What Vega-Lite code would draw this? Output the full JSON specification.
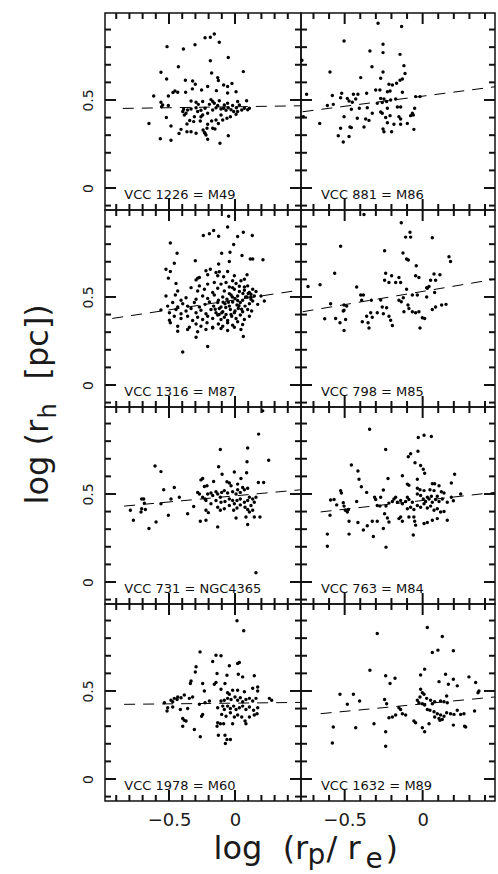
{
"$schema":"https://vega.github.io/schema/vega-lite/v6.json",
"background":"white",
"padding":{"left":20,"top":12,"right":4,"bottom":0},
"config":{"view":{"stroke":"#111","strokeWidth":1.5,"fill":null},"tick":{"thickness":2,"color":"#111","opacity":1},"axis":{"labelFont":"DejaVu Sans","titleFont":"DejaVu Sans","labelColor":"#1a1a1a","titleColor":"#1a1a1a","titleFontWeight":"normal","domain":false,"ticks":false,"grid":false}},
"datasets":{
"yt":[{"v":-0.1,"k":"minor"},{"v":0,"k":"major"},{"v":0.1,"k":"minor"},{"v":0.2,"k":"minor"},{"v":0.3,"k":"minor"},{"v":0.4,"k":"minor"},{"v":0.5,"k":"major"},{"v":0.6,"k":"minor"},{"v":0.7,"k":"minor"},{"v":0.8,"k":"minor"},{"v":0.9,"k":"minor"}],
"xtl":[{"v":-0.9,"k":"minor"},{"v":-0.8,"k":"minor"},{"v":-0.7,"k":"minor"},{"v":-0.6,"k":"minor"},{"v":-0.5,"k":"major"},{"v":-0.4,"k":"minor"},{"v":-0.3,"k":"minor"},{"v":-0.2,"k":"minor"},{"v":-0.1,"k":"minor"},{"v":0,"k":"major"},{"v":0.1,"k":"minor"},{"v":0.2,"k":"minor"},{"v":0.3,"k":"minor"},{"v":0.4,"k":"minor"}],
"xtr":[{"v":-0.7,"k":"minor"},{"v":-0.6,"k":"minor"},{"v":-0.5,"k":"major"},{"v":-0.4,"k":"minor"},{"v":-0.3,"k":"minor"},{"v":-0.2,"k":"minor"},{"v":-0.1,"k":"minor"},{"v":0,"k":"major"},{"v":0.1,"k":"minor"},{"v":0.2,"k":"minor"},{"v":0.3,"k":"minor"},{"v":0.4,"k":"minor"}],
"m49":[{"x":-0.157,"y":0.875},{"x":-0.187,"y":0.856},{"x":-0.227,"y":0.854},{"x":-0.119,"y":0.828},{"x":-0.515,"y":0.803},{"x":-0.391,"y":0.790},{"x":-0.303,"y":0.814},{"x":-0.051,"y":0.741},{"x":-0.187,"y":0.723},{"x":-0.429,"y":0.689},{"x":-0.561,"y":0.657},{"x":0.063,"y":0.661},{"x":-0.177,"y":0.653},{"x":-0.518,"y":0.619},{"x":-0.131,"y":0.627},{"x":-0.126,"y":0.610},{"x":-0.376,"y":0.612},{"x":-0.321,"y":0.608},{"x":-0.301,"y":0.589},{"x":-0.207,"y":0.576},{"x":-0.086,"y":0.585},{"x":-0.023,"y":0.593},{"x":-0.056,"y":0.576},{"x":-0.323,"y":0.563},{"x":-0.455,"y":0.551},{"x":-0.434,"y":0.544},{"x":-0.470,"y":0.542},{"x":-0.374,"y":0.544},{"x":-0.253,"y":0.557},{"x":-0.141,"y":0.553},{"x":-0.056,"y":0.540},{"x":0.008,"y":0.547},{"x":-0.505,"y":0.523},{"x":-0.616,"y":0.523},{"x":-0.561,"y":0.487},{"x":-0.548,"y":0.472},{"x":-0.556,"y":0.462},{"x":-0.333,"y":0.494},{"x":-0.295,"y":0.487},{"x":-0.245,"y":0.491},{"x":-0.182,"y":0.502},{"x":-0.169,"y":0.491},{"x":-0.119,"y":0.496},{"x":-0.056,"y":0.481},{"x":0.020,"y":0.491},{"x":0.088,"y":0.496},{"x":-0.389,"y":0.447},{"x":-0.359,"y":0.443},{"x":-0.333,"y":0.449},{"x":-0.396,"y":0.434},{"x":-0.371,"y":0.424},{"x":-0.295,"y":0.456},{"x":-0.283,"y":0.434},{"x":-0.258,"y":0.441},{"x":-0.227,"y":0.453},{"x":-0.207,"y":0.424},{"x":-0.169,"y":0.443},{"x":-0.144,"y":0.456},{"x":-0.131,"y":0.468},{"x":-0.106,"y":0.449},{"x":-0.086,"y":0.453},{"x":-0.068,"y":0.441},{"x":-0.051,"y":0.456},{"x":-0.030,"y":0.445},{"x":-0.010,"y":0.434},{"x":0.010,"y":0.456},{"x":0.033,"y":0.472},{"x":0.051,"y":0.443},{"x":0.071,"y":0.453},{"x":0.096,"y":0.445},{"x":0.109,"y":0.453},{"x":-0.194,"y":0.475},{"x":-0.157,"y":0.481},{"x":-0.081,"y":0.472},{"x":-0.018,"y":0.468},{"x":0.020,"y":0.434},{"x":-0.384,"y":0.415},{"x":-0.308,"y":0.405},{"x":-0.245,"y":0.415},{"x":-0.520,"y":0.400},{"x":-0.505,"y":0.468},{"x":-0.652,"y":0.366},{"x":-0.485,"y":0.352},{"x":-0.364,"y":0.364},{"x":-0.313,"y":0.377},{"x":-0.343,"y":0.383},{"x":-0.263,"y":0.381},{"x":-0.207,"y":0.362},{"x":-0.177,"y":0.381},{"x":-0.144,"y":0.386},{"x":-0.126,"y":0.366},{"x":-0.093,"y":0.386},{"x":-0.061,"y":0.396},{"x":-0.035,"y":0.405},{"x":0.008,"y":0.419},{"x":-0.409,"y":0.333},{"x":-0.424,"y":0.309},{"x":-0.364,"y":0.320},{"x":-0.333,"y":0.320},{"x":-0.295,"y":0.311},{"x":-0.242,"y":0.330},{"x":-0.227,"y":0.311},{"x":-0.212,"y":0.339},{"x":-0.169,"y":0.339},{"x":-0.152,"y":0.335},{"x":-0.232,"y":0.316},{"x":-0.220,"y":0.301},{"x":-0.566,"y":0.280},{"x":-0.485,"y":0.271},{"x":-0.207,"y":0.277},{"x":-0.051,"y":0.297},{"x":-0.114,"y":0.254},{"x":-0.278,"y":0.475},{"x":-0.106,"y":0.415},{"x":-0.258,"y":0.405}],
"m86":[{"x":-0.286,"y":0.936},{"x":-0.135,"y":0.917},{"x":-0.504,"y":0.835},{"x":-0.254,"y":0.816},{"x":-0.254,"y":0.769},{"x":-0.338,"y":0.778},{"x":-0.145,"y":0.759},{"x":-0.774,"y":0.725},{"x":-0.325,"y":0.689},{"x":-0.120,"y":0.695},{"x":-0.594,"y":0.659},{"x":-0.254,"y":0.659},{"x":-0.113,"y":0.650},{"x":-0.397,"y":0.627},{"x":-0.269,"y":0.623},{"x":-0.130,"y":0.619},{"x":-0.145,"y":0.612},{"x":-0.167,"y":0.595},{"x":-0.194,"y":0.585},{"x":-0.216,"y":0.589},{"x":-0.274,"y":0.557},{"x":-0.301,"y":0.557},{"x":-0.226,"y":0.547},{"x":-0.209,"y":0.551},{"x":-0.359,"y":0.538},{"x":-0.415,"y":0.532},{"x":-0.444,"y":0.532},{"x":-0.483,"y":0.509},{"x":-0.519,"y":0.538},{"x":-0.526,"y":0.513},{"x":-0.579,"y":0.525},{"x":-0.573,"y":0.475},{"x":-0.611,"y":0.468},{"x":-0.472,"y":0.494},{"x":-0.451,"y":0.487},{"x":-0.429,"y":0.506},{"x":-0.130,"y":0.544},{"x":-0.045,"y":0.519},{"x":-0.017,"y":0.519},{"x":-0.269,"y":0.509},{"x":-0.248,"y":0.506},{"x":-0.291,"y":0.481},{"x":-0.259,"y":0.485},{"x":-0.231,"y":0.491},{"x":-0.205,"y":0.500},{"x":-0.173,"y":0.506},{"x":-0.162,"y":0.460},{"x":-0.141,"y":0.460},{"x":-0.457,"y":0.447},{"x":-0.406,"y":0.453},{"x":-0.355,"y":0.456},{"x":-0.323,"y":0.424},{"x":-0.269,"y":0.432},{"x":-0.259,"y":0.424},{"x":-0.226,"y":0.453},{"x":-0.209,"y":0.411},{"x":-0.237,"y":0.400},{"x":-0.504,"y":0.405},{"x":-0.419,"y":0.396},{"x":-0.365,"y":0.392},{"x":-0.344,"y":0.384},{"x":-0.152,"y":0.405},{"x":-0.141,"y":0.392},{"x":-0.066,"y":0.424},{"x":-0.060,"y":0.415},{"x":-0.051,"y":0.453},{"x":-0.077,"y":0.411},{"x":-0.184,"y":0.362},{"x":-0.226,"y":0.371},{"x":-0.141,"y":0.362},{"x":-0.098,"y":0.367},{"x":-0.376,"y":0.347},{"x":-0.466,"y":0.347},{"x":-0.457,"y":0.343},{"x":-0.526,"y":0.339},{"x":-0.660,"y":0.367},{"x":-0.765,"y":0.405},{"x":-0.744,"y":0.532},{"x":-0.541,"y":0.297},{"x":-0.472,"y":0.292},{"x":-0.509,"y":0.261},{"x":-0.254,"y":0.335},{"x":-0.248,"y":0.320},{"x":-0.199,"y":0.320},{"x":-0.056,"y":0.333}],
"m87":[{"x":-0.048,"y":0.958},{"x":-0.056,"y":0.897},{"x":0.063,"y":0.868},{"x":0.020,"y":0.844},{"x":0.131,"y":0.849},{"x":-0.162,"y":0.878},{"x":-0.194,"y":0.859},{"x":-0.240,"y":0.849},{"x":-0.124,"y":0.845},{"x":-0.490,"y":0.807},{"x":-0.010,"y":0.798},{"x":-0.439,"y":0.748},{"x":-0.101,"y":0.748},{"x":-0.038,"y":0.754},{"x":0.053,"y":0.735},{"x":0.116,"y":0.716},{"x":0.134,"y":0.716},{"x":0.212,"y":0.712},{"x":-0.301,"y":0.706},{"x":-0.043,"y":0.702},{"x":-0.460,"y":0.691},{"x":-0.124,"y":0.687},{"x":-0.523,"y":0.658},{"x":-0.490,"y":0.645},{"x":-0.187,"y":0.658},{"x":-0.220,"y":0.649},{"x":-0.144,"y":0.639},{"x":-0.119,"y":0.643},{"x":-0.056,"y":0.645},{"x":0.091,"y":0.626},{"x":-0.505,"y":0.607},{"x":-0.283,"y":0.607},{"x":-0.270,"y":0.611},{"x":-0.295,"y":0.597},{"x":-0.207,"y":0.626},{"x":-0.131,"y":0.620},{"x":-0.086,"y":0.615},{"x":-0.005,"y":0.620},{"x":-0.018,"y":0.592},{"x":0.045,"y":0.592},{"x":0.071,"y":0.601},{"x":-0.447,"y":0.576},{"x":-0.333,"y":0.553},{"x":-0.270,"y":0.563},{"x":-0.207,"y":0.573},{"x":-0.157,"y":0.582},{"x":-0.106,"y":0.573},{"x":-0.068,"y":0.582},{"x":0.008,"y":0.576},{"x":0.033,"y":0.561},{"x":0.096,"y":0.563},{"x":0.071,"y":0.557},{"x":-0.043,"y":0.557},{"x":-0.434,"y":0.534},{"x":-0.283,"y":0.534},{"x":-0.232,"y":0.544},{"x":-0.169,"y":0.525},{"x":-0.131,"y":0.550},{"x":-0.081,"y":0.534},{"x":-0.043,"y":0.519},{"x":-0.005,"y":0.544},{"x":0.033,"y":0.531},{"x":0.071,"y":0.538},{"x":0.109,"y":0.525},{"x":0.134,"y":0.544},{"x":0.159,"y":0.531},{"x":0.121,"y":0.515},{"x":-0.018,"y":0.553},{"x":-0.523,"y":0.506},{"x":-0.452,"y":0.511},{"x":-0.409,"y":0.481},{"x":-0.371,"y":0.496},{"x":-0.295,"y":0.487},{"x":-0.245,"y":0.506},{"x":-0.207,"y":0.492},{"x":-0.157,"y":0.511},{"x":-0.126,"y":0.481},{"x":-0.093,"y":0.500},{"x":-0.061,"y":0.487},{"x":-0.030,"y":0.511},{"x":0,"y":0.492},{"x":0.020,"y":0.506},{"x":0.058,"y":0.481},{"x":0.091,"y":0.500},{"x":0.121,"y":0.487},{"x":0.146,"y":0.506},{"x":0.197,"y":0.506},{"x":0.222,"y":0.477},{"x":-0.510,"y":0.448},{"x":-0.472,"y":0.468},{"x":-0.434,"y":0.443},{"x":-0.396,"y":0.462},{"x":-0.359,"y":0.448},{"x":-0.308,"y":0.468},{"x":-0.270,"y":0.443},{"x":-0.227,"y":0.458},{"x":-0.194,"y":0.471},{"x":-0.162,"y":0.448},{"x":-0.131,"y":0.468},{"x":-0.106,"y":0.443},{"x":-0.076,"y":0.462},{"x":-0.043,"y":0.448},{"x":-0.018,"y":0.471},{"x":0.015,"y":0.454},{"x":0.040,"y":0.468},{"x":0.076,"y":0.448},{"x":0.109,"y":0.462},{"x":0.134,"y":0.477},{"x":0.172,"y":0.458},{"x":-0.561,"y":0.426},{"x":-0.497,"y":0.410},{"x":-0.447,"y":0.429},{"x":-0.409,"y":0.405},{"x":-0.371,"y":0.420},{"x":-0.333,"y":0.435},{"x":-0.295,"y":0.410},{"x":-0.258,"y":0.424},{"x":-0.220,"y":0.405},{"x":-0.182,"y":0.429},{"x":-0.144,"y":0.410},{"x":-0.119,"y":0.435},{"x":-0.093,"y":0.416},{"x":-0.068,"y":0.401},{"x":-0.035,"y":0.429},{"x":-0.005,"y":0.410},{"x":0.025,"y":0.435},{"x":0.058,"y":0.416},{"x":0.096,"y":0.429},{"x":0.126,"y":0.420},{"x":-0.497,"y":0.368},{"x":-0.460,"y":0.391},{"x":-0.409,"y":0.378},{"x":-0.359,"y":0.391},{"x":-0.321,"y":0.366},{"x":-0.283,"y":0.385},{"x":-0.245,"y":0.372},{"x":-0.207,"y":0.391},{"x":-0.169,"y":0.378},{"x":-0.131,"y":0.397},{"x":-0.106,"y":0.372},{"x":-0.081,"y":0.385},{"x":-0.056,"y":0.366},{"x":-0.025,"y":0.391},{"x":0.008,"y":0.378},{"x":0.040,"y":0.397},{"x":0.071,"y":0.372},{"x":0.109,"y":0.391},{"x":-0.490,"y":0.353},{"x":-0.434,"y":0.334},{"x":-0.346,"y":0.328},{"x":-0.295,"y":0.347},{"x":-0.258,"y":0.334},{"x":-0.212,"y":0.353},{"x":-0.169,"y":0.328},{"x":-0.126,"y":0.347},{"x":-0.093,"y":0.334},{"x":-0.056,"y":0.353},{"x":-0.018,"y":0.340},{"x":0.020,"y":0.359},{"x":0.058,"y":0.344},{"x":-0.434,"y":0.305},{"x":-0.359,"y":0.315},{"x":-0.283,"y":0.302},{"x":-0.220,"y":0.315},{"x":-0.169,"y":0.324},{"x":-0.106,"y":0.321},{"x":-0.056,"y":0.309},{"x":-0.005,"y":0.328},{"x":0.045,"y":0.315},{"x":-0.295,"y":0.271},{"x":0.063,"y":0.275},{"x":-0.207,"y":0.219},{"x":-0.396,"y":0.187},{"x":-0.10,"y":0.41},{"x":-0.03,"y":0.40},{"x":0.05,"y":0.43},{"x":0.0,"y":0.42},{"x":-0.07,"y":0.44},{"x":0.03,"y":0.45},{"x":-0.12,"y":0.40},{"x":-0.05,"y":0.47},{"x":0.08,"y":0.50},{"x":0.10,"y":0.52},{"x":0.12,"y":0.50},{"x":0.06,"y":0.52},{"x":-0.02,"y":0.50},{"x":0.02,"y":0.48},{"x":-0.09,"y":0.47},{"x":-0.15,"y":0.43}],
"m85":[{"x":-0.376,"y":0.969},{"x":-0.137,"y":0.922},{"x":-0.081,"y":0.868},{"x":-0.109,"y":0.840},{"x":-0.077,"y":0.840},{"x":0.062,"y":0.836},{"x":-0.526,"y":0.788},{"x":-0.244,"y":0.763},{"x":-0.126,"y":0.750},{"x":-0.103,"y":0.716},{"x":-0.092,"y":0.710},{"x":0.169,"y":0.729},{"x":0.179,"y":0.702},{"x":-0.041,"y":0.677},{"x":-0.564,"y":0.635},{"x":-0.237,"y":0.635},{"x":-0.199,"y":0.620},{"x":-0.152,"y":0.611},{"x":-0.244,"y":0.595},{"x":-0.216,"y":0.582},{"x":-0.173,"y":0.582},{"x":-0.141,"y":0.582},{"x":-0.045,"y":0.620},{"x":-0.024,"y":0.611},{"x":0.073,"y":0.630},{"x":0.111,"y":0.626},{"x":0.051,"y":0.595},{"x":0.083,"y":0.595},{"x":-0.735,"y":0.559},{"x":-0.658,"y":0.569},{"x":-0.423,"y":0.557},{"x":-0.103,"y":0.544},{"x":0.026,"y":0.553},{"x":0.030,"y":0.550},{"x":0.041,"y":0.559},{"x":0.026,"y":0.500},{"x":0.077,"y":0.525},{"x":-0.397,"y":0.511},{"x":-0.380,"y":0.511},{"x":-0.391,"y":0.481},{"x":-0.329,"y":0.481},{"x":-0.269,"y":0.483},{"x":-0.152,"y":0.481},{"x":-0.137,"y":0.473},{"x":-0.124,"y":0.496},{"x":-0.066,"y":0.511},{"x":-0.034,"y":0.511},{"x":-0.590,"y":0.462},{"x":-0.504,"y":0.454},{"x":-0.487,"y":0.448},{"x":-0.504,"y":0.424},{"x":-0.509,"y":0.420},{"x":-0.259,"y":0.443},{"x":-0.231,"y":0.439},{"x":-0.094,"y":0.454},{"x":-0.088,"y":0.435},{"x":-0.120,"y":0.416},{"x":-0.066,"y":0.416},{"x":-0.024,"y":0.416},{"x":0.062,"y":0.429},{"x":0.083,"y":0.443},{"x":0.122,"y":0.454},{"x":0.150,"y":0.458},{"x":-0.628,"y":0.376},{"x":-0.558,"y":0.378},{"x":-0.530,"y":0.353},{"x":-0.494,"y":0.372},{"x":-0.504,"y":0.309},{"x":-0.387,"y":0.359},{"x":-0.359,"y":0.391},{"x":-0.333,"y":0.410},{"x":-0.323,"y":0.385},{"x":-0.291,"y":0.410},{"x":-0.344,"y":0.324},{"x":-0.350,"y":0.353},{"x":-0.216,"y":0.391},{"x":-0.205,"y":0.368},{"x":-0.194,"y":0.338},{"x":-0.252,"y":0.405},{"x":-0.017,"y":0.324},{"x":-0.002,"y":0.382},{"x":0.013,"y":0.378},{"x":-0.045,"y":0.410}],
"n4365":[{"x":0.179,"y":0.840},{"x":0.096,"y":0.761},{"x":-0.111,"y":0.752},{"x":0.255,"y":0.692},{"x":-0.606,"y":0.659},{"x":-0.561,"y":0.627},{"x":-0.124,"y":0.655},{"x":0.091,"y":0.683},{"x":-0.098,"y":0.612},{"x":-0.005,"y":0.625},{"x":0.088,"y":0.621},{"x":0.045,"y":0.588},{"x":-0.245,"y":0.588},{"x":-0.258,"y":0.580},{"x":-0.162,"y":0.571},{"x":-0.212,"y":0.547},{"x":-0.232,"y":0.543},{"x":-0.061,"y":0.569},{"x":-0.043,"y":0.562},{"x":-0.030,"y":0.547},{"x":0.020,"y":0.556},{"x":0.058,"y":0.537},{"x":0.177,"y":0.565},{"x":0.217,"y":0.565},{"x":-0.540,"y":0.524},{"x":-0.460,"y":0.537},{"x":-0.422,"y":0.481},{"x":-0.485,"y":0.472},{"x":-0.561,"y":0.444},{"x":-0.692,"y":0.472},{"x":-0.707,"y":0.472},{"x":-0.687,"y":0.448},{"x":-0.707,"y":0.416},{"x":-0.712,"y":0.397},{"x":-0.679,"y":0.412},{"x":-0.793,"y":0.407},{"x":-0.770,"y":0.351},{"x":-0.652,"y":0.304},{"x":-0.598,"y":0.341},{"x":-0.505,"y":0.379},{"x":-0.359,"y":0.388},{"x":-0.313,"y":0.429},{"x":-0.283,"y":0.509},{"x":-0.270,"y":0.500},{"x":-0.245,"y":0.481},{"x":-0.227,"y":0.472},{"x":-0.207,"y":0.500},{"x":-0.182,"y":0.506},{"x":-0.169,"y":0.491},{"x":-0.144,"y":0.513},{"x":-0.131,"y":0.500},{"x":-0.111,"y":0.481},{"x":-0.101,"y":0.509},{"x":-0.081,"y":0.519},{"x":-0.056,"y":0.506},{"x":-0.018,"y":0.513},{"x":0.008,"y":0.500},{"x":0.020,"y":0.524},{"x":0.040,"y":0.509},{"x":0.071,"y":0.524},{"x":0.096,"y":0.532},{"x":-0.220,"y":0.463},{"x":-0.182,"y":0.444},{"x":-0.144,"y":0.463},{"x":-0.106,"y":0.453},{"x":-0.076,"y":0.457},{"x":-0.043,"y":0.472},{"x":-0.018,"y":0.463},{"x":-0.005,"y":0.444},{"x":0.015,"y":0.463},{"x":0.040,"y":0.472},{"x":0.071,"y":0.453},{"x":0.096,"y":0.463},{"x":0.109,"y":0.481},{"x":0.134,"y":0.472},{"x":0.146,"y":0.453},{"x":0.159,"y":0.481},{"x":-0.131,"y":0.425},{"x":-0.081,"y":0.416},{"x":-0.043,"y":0.435},{"x":-0.010,"y":0.407},{"x":0.015,"y":0.420},{"x":0.040,"y":0.438},{"x":0.076,"y":0.425},{"x":0.096,"y":0.412},{"x":0.121,"y":0.435},{"x":0.134,"y":0.407},{"x":-0.220,"y":0.407},{"x":-0.202,"y":0.394},{"x":-0.111,"y":0.407},{"x":-0.263,"y":0.345},{"x":-0.220,"y":0.351},{"x":-0.131,"y":0.313},{"x":0.008,"y":0.364},{"x":0.083,"y":0.369},{"x":0.096,"y":0.326},{"x":0.109,"y":0.397},{"x":0.146,"y":0.369},{"x":0.189,"y":0.369},{"x":0.159,"y":0.052},{"x":0.210,"y":0.972}],
"m84":[{"x":-0.340,"y":0.868},{"x":-0.028,"y":0.821},{"x":0.009,"y":0.834},{"x":0.056,"y":0.826},{"x":-0.237,"y":0.752},{"x":-0.030,"y":0.743},{"x":-0.077,"y":0.729},{"x":-0.092,"y":0.711},{"x":-0.457,"y":0.664},{"x":-0.049,"y":0.677},{"x":-0.013,"y":0.662},{"x":0.004,"y":0.640},{"x":0.013,"y":0.618},{"x":-0.415,"y":0.631},{"x":-0.408,"y":0.584},{"x":-0.222,"y":0.588},{"x":-0.130,"y":0.603},{"x":-0.034,"y":0.584},{"x":0.205,"y":0.612},{"x":0.184,"y":0.562},{"x":-0.098,"y":0.556},{"x":-0.088,"y":0.550},{"x":0.062,"y":0.558},{"x":0.077,"y":0.558},{"x":0.105,"y":0.547},{"x":-0.393,"y":0.541},{"x":-0.526,"y":0.519},{"x":-0.521,"y":0.506},{"x":-0.359,"y":0.509},{"x":-0.252,"y":0.522},{"x":-0.034,"y":0.532},{"x":-0.017,"y":0.524},{"x":0.009,"y":0.519},{"x":0.047,"y":0.524},{"x":0.073,"y":0.519},{"x":0.120,"y":0.513},{"x":0.137,"y":0.506},{"x":-0.590,"y":0.466},{"x":-0.568,"y":0.468},{"x":-0.551,"y":0.438},{"x":-0.509,"y":0.450},{"x":-0.504,"y":0.431},{"x":-0.496,"y":0.407},{"x":-0.483,"y":0.397},{"x":-0.476,"y":0.412},{"x":-0.423,"y":0.457},{"x":-0.308,"y":0.481},{"x":-0.301,"y":0.468},{"x":-0.269,"y":0.481},{"x":-0.184,"y":0.472},{"x":-0.173,"y":0.481},{"x":-0.194,"y":0.457},{"x":-0.291,"y":0.435},{"x":-0.274,"y":0.431},{"x":-0.235,"y":0.431},{"x":-0.216,"y":0.448},{"x":-0.162,"y":0.453},{"x":-0.141,"y":0.463},{"x":-0.130,"y":0.444},{"x":-0.109,"y":0.457},{"x":-0.088,"y":0.468},{"x":-0.066,"y":0.453},{"x":-0.098,"y":0.481},{"x":-0.034,"y":0.500},{"x":-0.013,"y":0.491},{"x":0.004,"y":0.472},{"x":0.019,"y":0.457},{"x":0.041,"y":0.472},{"x":0.062,"y":0.453},{"x":0.083,"y":0.468},{"x":0.105,"y":0.457},{"x":0.126,"y":0.472},{"x":0.030,"y":0.481},{"x":0.056,"y":0.487},{"x":0.094,"y":0.487},{"x":-0.098,"y":0.416},{"x":-0.077,"y":0.425},{"x":-0.056,"y":0.412},{"x":-0.034,"y":0.435},{"x":-0.013,"y":0.425},{"x":0.009,"y":0.444},{"x":0.030,"y":0.420},{"x":0.051,"y":0.431},{"x":0.073,"y":0.407},{"x":0.094,"y":0.416},{"x":0.115,"y":0.397},{"x":0.137,"y":0.401},{"x":0.158,"y":0.453},{"x":0.184,"y":0.481},{"x":0.197,"y":0.461},{"x":0.244,"y":0.500},{"x":-0.594,"y":0.379},{"x":-0.472,"y":0.345},{"x":-0.415,"y":0.338},{"x":-0.380,"y":0.295},{"x":-0.355,"y":0.319},{"x":-0.323,"y":0.345},{"x":-0.291,"y":0.345},{"x":-0.244,"y":0.388},{"x":-0.226,"y":0.364},{"x":-0.216,"y":0.341},{"x":-0.252,"y":0.304},{"x":-0.152,"y":0.360},{"x":-0.141,"y":0.369},{"x":-0.130,"y":0.345},{"x":-0.088,"y":0.369},{"x":-0.056,"y":0.369},{"x":-0.051,"y":0.345},{"x":-0.045,"y":0.323},{"x":0.009,"y":0.332},{"x":0.030,"y":0.338},{"x":0.062,"y":0.351},{"x":0.094,"y":0.360},{"x":0.158,"y":0.351},{"x":-0.611,"y":0.272},{"x":-0.611,"y":0.203},{"x":-0.472,"y":0.272},{"x":-0.316,"y":0.259},{"x":-0.235,"y":0.198},{"x":-0.060,"y":0.267}],
"m60":[{"x":0.015,"y":0.899},{"x":0.066,"y":0.842},{"x":-0.265,"y":0.722},{"x":-0.144,"y":0.703},{"x":-0.106,"y":0.700},{"x":-0.169,"y":0.667},{"x":-0.295,"y":0.637},{"x":-0.301,"y":0.608},{"x":0.020,"y":0.656},{"x":0.033,"y":0.662},{"x":-0.043,"y":0.643},{"x":-0.136,"y":0.599},{"x":-0.061,"y":0.589},{"x":0.025,"y":0.595},{"x":0.058,"y":0.580},{"x":0.146,"y":0.586},{"x":-0.333,"y":0.557},{"x":-0.338,"y":0.542},{"x":-0.245,"y":0.542},{"x":-0.157,"y":0.538},{"x":-0.144,"y":0.548},{"x":-0.076,"y":0.542},{"x":-0.232,"y":0.500},{"x":-0.106,"y":0.510},{"x":-0.056,"y":0.490},{"x":-0.018,"y":0.504},{"x":0.020,"y":0.504},{"x":0.071,"y":0.496},{"x":-0.043,"y":0.481},{"x":0.134,"y":0.515},{"x":0.172,"y":0.523},{"x":0.172,"y":0.500},{"x":-0.384,"y":0.477},{"x":-0.409,"y":0.462},{"x":-0.460,"y":0.458},{"x":-0.485,"y":0.447},{"x":-0.472,"y":0.439},{"x":-0.439,"y":0.452},{"x":-0.434,"y":0.466},{"x":-0.346,"y":0.458},{"x":-0.321,"y":0.466},{"x":-0.270,"y":0.424},{"x":-0.227,"y":0.433},{"x":-0.194,"y":0.443},{"x":-0.106,"y":0.443},{"x":-0.081,"y":0.447},{"x":-0.056,"y":0.458},{"x":-0.030,"y":0.452},{"x":0,"y":0.466},{"x":0.020,"y":0.447},{"x":0.040,"y":0.462},{"x":0.058,"y":0.439},{"x":0.083,"y":0.452},{"x":0.109,"y":0.458},{"x":0.134,"y":0.443},{"x":0.159,"y":0.458},{"x":0.260,"y":0.458},{"x":0.278,"y":0.447},{"x":-0.535,"y":0.433},{"x":-0.510,"y":0.405},{"x":-0.515,"y":0.386},{"x":-0.472,"y":0.409},{"x":-0.414,"y":0.395},{"x":-0.359,"y":0.401},{"x":-0.396,"y":0.344},{"x":-0.384,"y":0.333},{"x":-0.371,"y":0.329},{"x":-0.396,"y":0.300},{"x":-0.308,"y":0.281},{"x":-0.263,"y":0.240},{"x":-0.245,"y":0.367},{"x":-0.253,"y":0.357},{"x":-0.131,"y":0.405},{"x":-0.093,"y":0.414},{"x":-0.081,"y":0.395},{"x":-0.056,"y":0.414},{"x":-0.035,"y":0.401},{"x":-0.010,"y":0.414},{"x":0.008,"y":0.395},{"x":0.033,"y":0.405},{"x":0.058,"y":0.414},{"x":0.083,"y":0.395},{"x":0.109,"y":0.409},{"x":0.141,"y":0.390},{"x":0.172,"y":0.405},{"x":-0.101,"y":0.367},{"x":-0.068,"y":0.357},{"x":-0.035,"y":0.376},{"x":-0.005,"y":0.352},{"x":0.020,"y":0.363},{"x":0.051,"y":0.352},{"x":0.076,"y":0.329},{"x":0.109,"y":0.352},{"x":0.146,"y":0.363},{"x":0.167,"y":0.371},{"x":-0.131,"y":0.319},{"x":-0.111,"y":0.314},{"x":-0.086,"y":0.314},{"x":-0.136,"y":0.300},{"x":-0.018,"y":0.314},{"x":0.083,"y":0.314},{"x":-0.126,"y":0.249},{"x":-0.076,"y":0.249},{"x":-0.061,"y":0.224},{"x":-0.035,"y":0.224},{"x":-0.073,"y":0.202}],
"m89":[{"x":0.030,"y":0.861},{"x":-0.291,"y":0.827},{"x":0.126,"y":0.810},{"x":0.062,"y":0.719},{"x":0.098,"y":0.732},{"x":0.197,"y":0.728},{"x":-0.338,"y":0.618},{"x":0.013,"y":0.624},{"x":-0.013,"y":0.591},{"x":-0.237,"y":0.586},{"x":-0.177,"y":0.572},{"x":-0.209,"y":0.542},{"x":0.147,"y":0.595},{"x":0.105,"y":0.553},{"x":0.165,"y":0.538},{"x":0.197,"y":0.567},{"x":0.222,"y":0.529},{"x":0.297,"y":0.580},{"x":0.340,"y":0.548},{"x":0.361,"y":0.500},{"x":0.355,"y":0.490},{"x":-0.530,"y":0.481},{"x":-0.444,"y":0.481},{"x":-0.483,"y":0.424},{"x":-0.404,"y":0.443},{"x":-0.244,"y":0.452},{"x":-0.231,"y":0.428},{"x":-0.013,"y":0.510},{"x":-0.002,"y":0.490},{"x":0.009,"y":0.481},{"x":-0.017,"y":0.466},{"x":0.026,"y":0.458},{"x":-0.034,"y":0.447},{"x":-0.024,"y":0.433},{"x":-0.002,"y":0.428},{"x":0.013,"y":0.420},{"x":0.051,"y":0.447},{"x":0.062,"y":0.428},{"x":0.077,"y":0.439},{"x":0.115,"y":0.443},{"x":0.137,"y":0.439},{"x":0.154,"y":0.471},{"x":0.158,"y":0.433},{"x":0.333,"y":0.386},{"x":0.030,"y":0.395},{"x":0.047,"y":0.390},{"x":0.073,"y":0.382},{"x":0.094,"y":0.371},{"x":0.115,"y":0.363},{"x":0.137,"y":0.357},{"x":0.154,"y":0.376},{"x":0.179,"y":0.371},{"x":0.201,"y":0.367},{"x":0.222,"y":0.390},{"x":0.244,"y":0.367},{"x":0.265,"y":0.371},{"x":0.077,"y":0.352},{"x":0.105,"y":0.344},{"x":0.126,"y":0.338},{"x":0.111,"y":0.333},{"x":0.041,"y":0.314},{"x":-0.056,"y":0.329},{"x":-0.045,"y":0.319},{"x":-0.216,"y":0.348},{"x":-0.194,"y":0.352},{"x":-0.173,"y":0.363},{"x":-0.152,"y":0.405},{"x":-0.141,"y":0.395},{"x":-0.130,"y":0.371},{"x":-0.109,"y":0.363},{"x":-0.312,"y":0.314},{"x":-0.573,"y":0.295},{"x":-0.429,"y":0.291},{"x":-0.237,"y":0.268},{"x":-0.002,"y":0.291},{"x":0.013,"y":0.268},{"x":0.197,"y":0.306},{"x":0.269,"y":0.300},{"x":0.276,"y":0.295},{"x":-0.579,"y":0.205},{"x":-0.237,"y":0.186}]
},
"columns":2,
"spacing":0,
"bounds":"flush",
"concat":[
{"width":196,"height":197,"layer":[
{"data":{"name":"m49"},"mark":{"type":"circle","size":12,"color":"#000","opacity":1},"encoding":{
"x":{"field":"x","type":"quantitative","scale":{"domain":[-0.985,0.5],"nice":false,"zero":false},"axis":null},
"y":{"field":"y","type":"quantitative","scale":{"domain":[-0.125,0.994],"nice":false,"zero":false},"axis":null}}},
{"data":{"name":"yt"},"mark":{"type":"tick","orient":"horizontal","clip":true},"encoding":{"y":{"field":"v","type":"quantitative","axis":null},"x":{"datum":-0.985,"type":"quantitative","axis":null},"size":{"field":"k","type":"ordinal","scale":{"domain":["minor","major"],"range":[12,22]},"legend":null}}},
{"data":{"name":"yt"},"mark":{"type":"tick","orient":"horizontal","clip":true},"encoding":{"y":{"field":"v","type":"quantitative","axis":null},"x":{"datum":0.5,"type":"quantitative","axis":null},"size":{"field":"k","type":"ordinal","scale":{"domain":["minor","major"],"range":[12,22]},"legend":null}}},
{"data":{"name":"xtl"},"mark":{"type":"tick","orient":"vertical","clip":true},"encoding":{"x":{"field":"v","type":"quantitative","axis":null},"y":{"datum":-0.125,"type":"quantitative","axis":null},"size":{"field":"k","type":"ordinal","scale":{"domain":["minor","major"],"range":[12,22]},"legend":null}}},
{"data":{"name":"xtl"},"mark":{"type":"tick","orient":"vertical","clip":true},"encoding":{"x":{"field":"v","type":"quantitative","axis":null},"y":{"datum":0.994,"type":"quantitative","axis":null},"size":{"field":"k","type":"ordinal","scale":{"domain":["minor","major"],"range":[12,22]},"legend":null}}},
{"data":{"values":[{"x1":-0.85,"y1":0.452,"x2":0.5,"y2":0.467}]},"mark":{"type":"rule","color":"#000","strokeWidth":1,"strokeDash":[11,8]},"encoding":{
"x":{"field":"x1","type":"quantitative","axis":null},"y":{"field":"y1","type":"quantitative","axis":null},"x2":{"field":"x2"},"y2":{"field":"y2"}}},
{"data":{"values":[{"label":"VCC 1226 = M49"}]},"mark":{"type":"text","align":"left","baseline":"alphabetic","font":"DejaVu Sans","fontSize":13,"color":"#111"},"encoding":{
"x":{"datum":-0.839,"type":"quantitative","axis":null},
"y":{"datum":-0.06,"type":"quantitative","axis":{"orient":"left","values":[0,0.5],"labelAngle":-90,"labelAlign":"center","labelBaseline":"alphabetic","labelPadding":13,"labelFontSize":14,"format":"~g","title":null}},
"text":{"field":"label"}}}
],"resolve":{"axis":{"x":"independent","y":"independent"}}},
{"width":194,"height":197,"layer":[
{"data":{"name":"m86"},"mark":{"type":"circle","size":12,"color":"#000","opacity":1},"encoding":{
"x":{"field":"x","type":"quantitative","scale":{"domain":[-0.78,0.464],"nice":false,"zero":false},"axis":null},
"y":{"field":"y","type":"quantitative","scale":{"domain":[-0.125,0.994],"nice":false,"zero":false},"axis":null}}},
{"data":{"name":"yt"},"mark":{"type":"tick","orient":"horizontal","clip":true},"encoding":{"y":{"field":"v","type":"quantitative","axis":null},"x":{"datum":-0.78,"type":"quantitative","axis":null},"size":{"field":"k","type":"ordinal","scale":{"domain":["minor","major"],"range":[12,22]},"legend":null}}},
{"data":{"name":"yt"},"mark":{"type":"tick","orient":"horizontal","clip":true},"encoding":{"y":{"field":"v","type":"quantitative","axis":null},"x":{"datum":0.464,"type":"quantitative","axis":null},"size":{"field":"k","type":"ordinal","scale":{"domain":["minor","major"],"range":[12,22]},"legend":null}}},
{"data":{"name":"xtr"},"mark":{"type":"tick","orient":"vertical","clip":true},"encoding":{"x":{"field":"v","type":"quantitative","axis":null},"y":{"datum":-0.125,"type":"quantitative","axis":null},"size":{"field":"k","type":"ordinal","scale":{"domain":["minor","major"],"range":[12,22]},"legend":null}}},
{"data":{"name":"xtr"},"mark":{"type":"tick","orient":"vertical","clip":true},"encoding":{"x":{"field":"v","type":"quantitative","axis":null},"y":{"datum":0.994,"type":"quantitative","axis":null},"size":{"field":"k","type":"ordinal","scale":{"domain":["minor","major"],"range":[12,22]},"legend":null}}},
{"data":{"values":[{"x1":-0.77,"y1":0.433,"x2":0.464,"y2":0.575}]},"mark":{"type":"rule","color":"#000","strokeWidth":1,"strokeDash":[11,8]},"encoding":{
"x":{"field":"x1","type":"quantitative","axis":null},"y":{"field":"y1","type":"quantitative","axis":null},"x2":{"field":"x2"},"y2":{"field":"y2"}}},
{"data":{"values":[{"label":"VCC 881 = M86"}]},"mark":{"type":"text","align":"left","baseline":"alphabetic","font":"DejaVu Sans","fontSize":13,"color":"#111"},"encoding":{
"x":{"datum":-0.652,"type":"quantitative","axis":null},
"y":{"datum":-0.06,"type":"quantitative","axis":null},
"text":{"field":"label"}}}
],"resolve":{"axis":{"x":"independent","y":"independent"}}},
{"width":196,"height":197,"layer":[
{"data":{"name":"m87"},"mark":{"type":"circle","size":12,"color":"#000","opacity":1},"encoding":{
"x":{"field":"x","type":"quantitative","scale":{"domain":[-0.985,0.5],"nice":false,"zero":false},"axis":null},
"y":{"field":"y","type":"quantitative","scale":{"domain":[-0.125,0.994],"nice":false,"zero":false},"axis":null}}},
{"data":{"name":"yt"},"mark":{"type":"tick","orient":"horizontal","clip":true},"encoding":{"y":{"field":"v","type":"quantitative","axis":null},"x":{"datum":-0.985,"type":"quantitative","axis":null},"size":{"field":"k","type":"ordinal","scale":{"domain":["minor","major"],"range":[12,22]},"legend":null}}},
{"data":{"name":"yt"},"mark":{"type":"tick","orient":"horizontal","clip":true},"encoding":{"y":{"field":"v","type":"quantitative","axis":null},"x":{"datum":0.5,"type":"quantitative","axis":null},"size":{"field":"k","type":"ordinal","scale":{"domain":["minor","major"],"range":[12,22]},"legend":null}}},
{"data":{"name":"xtl"},"mark":{"type":"tick","orient":"vertical","clip":true},"encoding":{"x":{"field":"v","type":"quantitative","axis":null},"y":{"datum":-0.125,"type":"quantitative","axis":null},"size":{"field":"k","type":"ordinal","scale":{"domain":["minor","major"],"range":[12,22]},"legend":null}}},
{"data":{"name":"xtl"},"mark":{"type":"tick","orient":"vertical","clip":true},"encoding":{"x":{"field":"v","type":"quantitative","axis":null},"y":{"datum":0.994,"type":"quantitative","axis":null},"size":{"field":"k","type":"ordinal","scale":{"domain":["minor","major"],"range":[12,22]},"legend":null}}},
{"data":{"values":[{"x1":-0.93,"y1":0.378,"x2":0.5,"y2":0.54}]},"mark":{"type":"rule","color":"#000","strokeWidth":1,"strokeDash":[11,8]},"encoding":{
"x":{"field":"x1","type":"quantitative","axis":null},"y":{"field":"y1","type":"quantitative","axis":null},"x2":{"field":"x2"},"y2":{"field":"y2"}}},
{"data":{"values":[{"label":"VCC 1316 = M87"}]},"mark":{"type":"text","align":"left","baseline":"alphabetic","font":"DejaVu Sans","fontSize":13,"color":"#111"},"encoding":{
"x":{"datum":-0.839,"type":"quantitative","axis":null},
"y":{"datum":-0.06,"type":"quantitative","axis":{"orient":"left","values":[0,0.5],"labelAngle":-90,"labelAlign":"center","labelBaseline":"alphabetic","labelPadding":13,"labelFontSize":14,"format":"~g","title":"[pc])","titleX":-58,"titleY":169,"titleAngle":-90,"titleAlign":"left","titleBaseline":"alphabetic","titleFontSize":32}},
"text":{"field":"label"}}}
],"resolve":{"axis":{"x":"independent","y":"independent"}}},
{"width":194,"height":197,"layer":[
{"data":{"name":"m85"},"mark":{"type":"circle","size":12,"color":"#000","opacity":1},"encoding":{
"x":{"field":"x","type":"quantitative","scale":{"domain":[-0.78,0.464],"nice":false,"zero":false},"axis":null},
"y":{"field":"y","type":"quantitative","scale":{"domain":[-0.125,0.994],"nice":false,"zero":false},"axis":null}}},
{"data":{"name":"yt"},"mark":{"type":"tick","orient":"horizontal","clip":true},"encoding":{"y":{"field":"v","type":"quantitative","axis":null},"x":{"datum":-0.78,"type":"quantitative","axis":null},"size":{"field":"k","type":"ordinal","scale":{"domain":["minor","major"],"range":[12,22]},"legend":null}}},
{"data":{"name":"yt"},"mark":{"type":"tick","orient":"horizontal","clip":true},"encoding":{"y":{"field":"v","type":"quantitative","axis":null},"x":{"datum":0.464,"type":"quantitative","axis":null},"size":{"field":"k","type":"ordinal","scale":{"domain":["minor","major"],"range":[12,22]},"legend":null}}},
{"data":{"name":"xtr"},"mark":{"type":"tick","orient":"vertical","clip":true},"encoding":{"x":{"field":"v","type":"quantitative","axis":null},"y":{"datum":-0.125,"type":"quantitative","axis":null},"size":{"field":"k","type":"ordinal","scale":{"domain":["minor","major"],"range":[12,22]},"legend":null}}},
{"data":{"name":"xtr"},"mark":{"type":"tick","orient":"vertical","clip":true},"encoding":{"x":{"field":"v","type":"quantitative","axis":null},"y":{"datum":0.994,"type":"quantitative","axis":null},"size":{"field":"k","type":"ordinal","scale":{"domain":["minor","major"],"range":[12,22]},"legend":null}}},
{"data":{"values":[{"x1":-0.77,"y1":0.416,"x2":0.464,"y2":0.601}]},"mark":{"type":"rule","color":"#000","strokeWidth":1,"strokeDash":[11,8]},"encoding":{
"x":{"field":"x1","type":"quantitative","axis":null},"y":{"field":"y1","type":"quantitative","axis":null},"x2":{"field":"x2"},"y2":{"field":"y2"}}},
{"data":{"values":[{"label":"VCC 798 = M85"}]},"mark":{"type":"text","align":"left","baseline":"alphabetic","font":"DejaVu Sans","fontSize":13,"color":"#111"},"encoding":{
"x":{"datum":-0.652,"type":"quantitative","axis":null},
"y":{"datum":-0.06,"type":"quantitative","axis":null},
"text":{"field":"label"}}}
],"resolve":{"axis":{"x":"independent","y":"independent"}}},
{"width":196,"height":197,"layer":[
{"data":{"name":"n4365"},"mark":{"type":"circle","size":12,"color":"#000","opacity":1},"encoding":{
"x":{"field":"x","type":"quantitative","scale":{"domain":[-0.985,0.5],"nice":false,"zero":false},"axis":null},
"y":{"field":"y","type":"quantitative","scale":{"domain":[-0.125,0.994],"nice":false,"zero":false},"axis":{"orient":"left","values":[0],"labels":false,"title":"h","titleX":-50,"titleY":11,"titleAngle":-90,"titleAlign":"left","titleBaseline":"alphabetic","titleFontSize":24}}}},
{"data":{"name":"yt"},"mark":{"type":"tick","orient":"horizontal","clip":true},"encoding":{"y":{"field":"v","type":"quantitative","axis":null},"x":{"datum":-0.985,"type":"quantitative","axis":null},"size":{"field":"k","type":"ordinal","scale":{"domain":["minor","major"],"range":[12,22]},"legend":null}}},
{"data":{"name":"yt"},"mark":{"type":"tick","orient":"horizontal","clip":true},"encoding":{"y":{"field":"v","type":"quantitative","axis":null},"x":{"datum":0.5,"type":"quantitative","axis":null},"size":{"field":"k","type":"ordinal","scale":{"domain":["minor","major"],"range":[12,22]},"legend":null}}},
{"data":{"name":"xtl"},"mark":{"type":"tick","orient":"vertical","clip":true},"encoding":{"x":{"field":"v","type":"quantitative","axis":null},"y":{"datum":-0.125,"type":"quantitative","axis":null},"size":{"field":"k","type":"ordinal","scale":{"domain":["minor","major"],"range":[12,22]},"legend":null}}},
{"data":{"name":"xtl"},"mark":{"type":"tick","orient":"vertical","clip":true},"encoding":{"x":{"field":"v","type":"quantitative","axis":null},"y":{"datum":0.994,"type":"quantitative","axis":null},"size":{"field":"k","type":"ordinal","scale":{"domain":["minor","major"],"range":[12,22]},"legend":null}}},
{"data":{"values":[{"x1":-0.84,"y1":0.431,"x2":0.5,"y2":0.524}]},"mark":{"type":"rule","color":"#000","strokeWidth":1,"strokeDash":[11,8]},"encoding":{
"x":{"field":"x1","type":"quantitative","axis":null},"y":{"field":"y1","type":"quantitative","axis":null},"x2":{"field":"x2"},"y2":{"field":"y2"}}},
{"data":{"values":[{"label":"VCC 731 = NGC4365"}]},"mark":{"type":"text","align":"left","baseline":"alphabetic","font":"DejaVu Sans","fontSize":13,"color":"#111"},"encoding":{
"x":{"datum":-0.839,"type":"quantitative","axis":null},
"y":{"datum":-0.06,"type":"quantitative","axis":{"orient":"left","values":[0,0.5],"labelAngle":-90,"labelAlign":"center","labelBaseline":"alphabetic","labelPadding":13,"labelFontSize":14,"format":"~g","title":"log (r","titleX":-58,"titleY":97,"titleAngle":-90,"titleAlign":"left","titleBaseline":"alphabetic","titleFontSize":32}},
"text":{"field":"label"}}}
],"resolve":{"axis":{"x":"independent","y":"independent"}}},
{"width":194,"height":197,"layer":[
{"data":{"name":"m84"},"mark":{"type":"circle","size":12,"color":"#000","opacity":1},"encoding":{
"x":{"field":"x","type":"quantitative","scale":{"domain":[-0.78,0.464],"nice":false,"zero":false},"axis":null},
"y":{"field":"y","type":"quantitative","scale":{"domain":[-0.125,0.994],"nice":false,"zero":false},"axis":null}}},
{"data":{"name":"yt"},"mark":{"type":"tick","orient":"horizontal","clip":true},"encoding":{"y":{"field":"v","type":"quantitative","axis":null},"x":{"datum":-0.78,"type":"quantitative","axis":null},"size":{"field":"k","type":"ordinal","scale":{"domain":["minor","major"],"range":[12,22]},"legend":null}}},
{"data":{"name":"yt"},"mark":{"type":"tick","orient":"horizontal","clip":true},"encoding":{"y":{"field":"v","type":"quantitative","axis":null},"x":{"datum":0.464,"type":"quantitative","axis":null},"size":{"field":"k","type":"ordinal","scale":{"domain":["minor","major"],"range":[12,22]},"legend":null}}},
{"data":{"name":"xtr"},"mark":{"type":"tick","orient":"vertical","clip":true},"encoding":{"x":{"field":"v","type":"quantitative","axis":null},"y":{"datum":-0.125,"type":"quantitative","axis":null},"size":{"field":"k","type":"ordinal","scale":{"domain":["minor","major"],"range":[12,22]},"legend":null}}},
{"data":{"name":"xtr"},"mark":{"type":"tick","orient":"vertical","clip":true},"encoding":{"x":{"field":"v","type":"quantitative","axis":null},"y":{"datum":0.994,"type":"quantitative","axis":null},"size":{"field":"k","type":"ordinal","scale":{"domain":["minor","major"],"range":[12,22]},"legend":null}}},
{"data":{"values":[{"x1":-0.654,"y1":0.398,"x2":0.464,"y2":0.509}]},"mark":{"type":"rule","color":"#000","strokeWidth":1,"strokeDash":[11,8]},"encoding":{
"x":{"field":"x1","type":"quantitative","axis":null},"y":{"field":"y1","type":"quantitative","axis":null},"x2":{"field":"x2"},"y2":{"field":"y2"}}},
{"data":{"values":[{"label":"VCC 763 = M84"}]},"mark":{"type":"text","align":"left","baseline":"alphabetic","font":"DejaVu Sans","fontSize":13,"color":"#111"},"encoding":{
"x":{"datum":-0.652,"type":"quantitative","axis":null},
"y":{"datum":-0.06,"type":"quantitative","axis":null},
"text":{"field":"label"}}}
],"resolve":{"axis":{"x":"independent","y":"independent"}}},
{"width":196,"height":197,"layer":[
{"data":{"name":"m60"},"mark":{"type":"circle","size":12,"color":"#000","opacity":1},"encoding":{
"x":{"field":"x","type":"quantitative","scale":{"domain":[-0.985,0.5],"nice":false,"zero":false},"axis":{"orient":"bottom","values":[0],"labels":false,"title":"p","titleX":202,"titleY":62,"titleAlign":"left","titleBaseline":"alphabetic","titleFontSize":28}},
"y":{"field":"y","type":"quantitative","scale":{"domain":[-0.125,0.994],"nice":false,"zero":false},"axis":null}}},
{"data":{"name":"yt"},"mark":{"type":"tick","orient":"horizontal","clip":true},"encoding":{"y":{"field":"v","type":"quantitative","axis":null},"x":{"datum":-0.985,"type":"quantitative","axis":null},"size":{"field":"k","type":"ordinal","scale":{"domain":["minor","major"],"range":[12,22]},"legend":null}}},
{"data":{"name":"yt"},"mark":{"type":"tick","orient":"horizontal","clip":true},"encoding":{"y":{"field":"v","type":"quantitative","axis":null},"x":{"datum":0.5,"type":"quantitative","axis":null},"size":{"field":"k","type":"ordinal","scale":{"domain":["minor","major"],"range":[12,22]},"legend":null}}},
{"data":{"name":"xtl"},"mark":{"type":"tick","orient":"vertical","clip":true},"encoding":{"x":{"field":"v","type":"quantitative","axis":null},"y":{"datum":-0.125,"type":"quantitative","axis":null},"size":{"field":"k","type":"ordinal","scale":{"domain":["minor","major"],"range":[12,22]},"legend":null}}},
{"data":{"name":"xtl"},"mark":{"type":"tick","orient":"vertical","clip":true},"encoding":{"x":{"field":"v","type":"quantitative","axis":null},"y":{"datum":0.994,"type":"quantitative","axis":null},"size":{"field":"k","type":"ordinal","scale":{"domain":["minor","major"],"range":[12,22]},"legend":null}}},
{"data":{"values":[{"x1":-0.84,"y1":0.424,"x2":0.5,"y2":0.435}]},"mark":{"type":"rule","color":"#000","strokeWidth":1,"strokeDash":[11,8]},"encoding":{
"x":{"field":"x1","type":"quantitative","axis":null},"y":{"field":"y1","type":"quantitative","axis":null},"x2":{"field":"x2"},"y2":{"field":"y2"}}},
{"data":{"values":[{"label":"VCC 1978 = M60"}]},"mark":{"type":"text","align":"left","baseline":"alphabetic","font":"DejaVu Sans","fontSize":13,"color":"#111"},"encoding":{
"x":{"datum":-0.839,"type":"quantitative","axis":{"orient":"bottom","values":[-0.5,0],"labelFontSize":18,"labelPadding":10,"format":"~g","title":"log\u00a0\u00a0(r","titleX":108,"titleY":57,"titleAlign":"left","titleBaseline":"alphabetic","titleFontSize":32}},
"y":{"datum":-0.06,"type":"quantitative","axis":{"orient":"left","values":[0,0.5],"labelAngle":-90,"labelAlign":"center","labelBaseline":"alphabetic","labelPadding":13,"labelFontSize":14,"format":"~g","title":null}},
"text":{"field":"label"}}}
],"resolve":{"axis":{"x":"independent","y":"independent"}}},
{"width":194,"height":197,"layer":[
{"data":{"name":"m89"},"mark":{"type":"circle","size":12,"color":"#000","opacity":1},"encoding":{
"x":{"field":"x","type":"quantitative","scale":{"domain":[-0.78,0.464],"nice":false,"zero":false},"axis":{"orient":"bottom","values":[0],"labels":false,"title":"e","titleX":64,"titleY":66,"titleAlign":"left","titleBaseline":"alphabetic","titleFontSize":28}},
"y":{"field":"y","type":"quantitative","scale":{"domain":[-0.125,0.994],"nice":false,"zero":false},"axis":{"orient":"left","values":[0],"labels":false,"title":")","titleX":84,"titleY":254,"titleAngle":0,"titleAlign":"left","titleBaseline":"alphabetic","titleFontSize":32}}}},
{"data":{"name":"yt"},"mark":{"type":"tick","orient":"horizontal","clip":true},"encoding":{"y":{"field":"v","type":"quantitative","axis":null},"x":{"datum":-0.78,"type":"quantitative","axis":null},"size":{"field":"k","type":"ordinal","scale":{"domain":["minor","major"],"range":[12,22]},"legend":null}}},
{"data":{"name":"yt"},"mark":{"type":"tick","orient":"horizontal","clip":true},"encoding":{"y":{"field":"v","type":"quantitative","axis":null},"x":{"datum":0.464,"type":"quantitative","axis":null},"size":{"field":"k","type":"ordinal","scale":{"domain":["minor","major"],"range":[12,22]},"legend":null}}},
{"data":{"name":"xtr"},"mark":{"type":"tick","orient":"vertical","clip":true},"encoding":{"x":{"field":"v","type":"quantitative","axis":null},"y":{"datum":-0.125,"type":"quantitative","axis":null},"size":{"field":"k","type":"ordinal","scale":{"domain":["minor","major"],"range":[12,22]},"legend":null}}},
{"data":{"name":"xtr"},"mark":{"type":"tick","orient":"vertical","clip":true},"encoding":{"x":{"field":"v","type":"quantitative","axis":null},"y":{"datum":0.994,"type":"quantitative","axis":null},"size":{"field":"k","type":"ordinal","scale":{"domain":["minor","major"],"range":[12,22]},"legend":null}}},
{"data":{"values":[{"x1":-0.654,"y1":0.371,"x2":0.464,"y2":0.466}]},"mark":{"type":"rule","color":"#000","strokeWidth":1,"strokeDash":[11,8]},"encoding":{
"x":{"field":"x1","type":"quantitative","axis":null},"y":{"field":"y1","type":"quantitative","axis":null},"x2":{"field":"x2"},"y2":{"field":"y2"}}},
{"data":{"values":[{"label":"VCC 1632 = M89"}]},"mark":{"type":"text","align":"left","baseline":"alphabetic","font":"DejaVu Sans","fontSize":13,"color":"#111"},"encoding":{
"x":{"datum":-0.652,"type":"quantitative","axis":{"orient":"bottom","values":[-0.5,0],"labelFontSize":18,"labelPadding":10,"format":"~g","title":"/ r","titleX":25,"titleY":57,"titleAlign":"left","titleBaseline":"alphabetic","titleFontSize":32}},
"y":{"datum":-0.06,"type":"quantitative","axis":null},
"text":{"field":"label"}}}
],"resolve":{"axis":{"x":"independent","y":"independent"}}}
]
}
